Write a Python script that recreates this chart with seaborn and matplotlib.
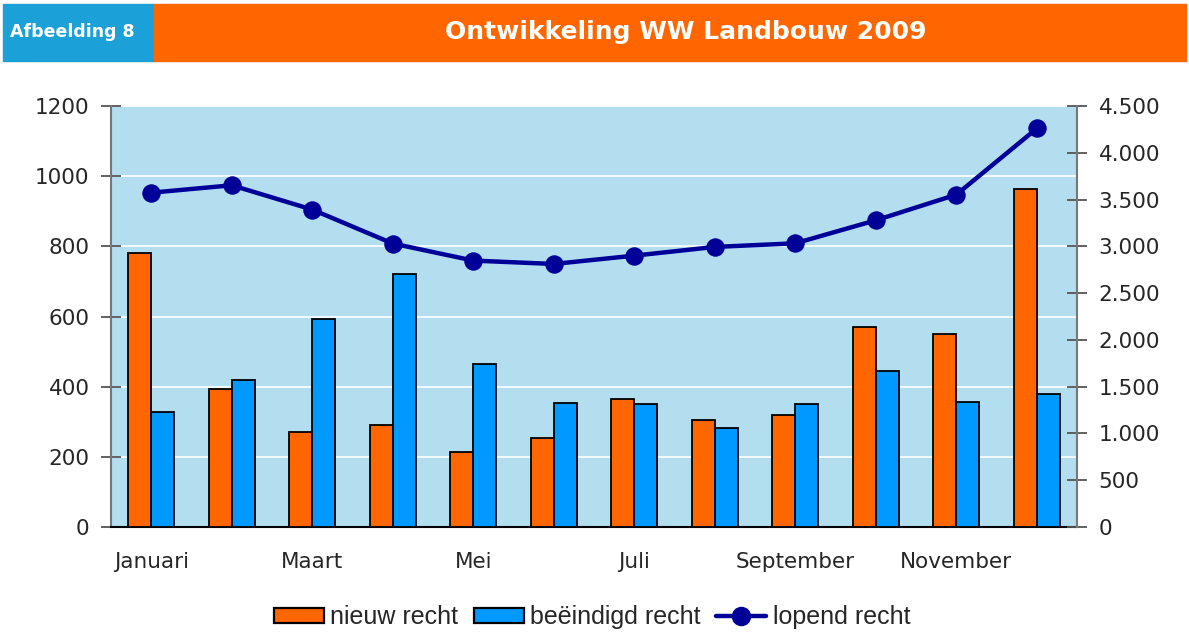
import pandas as pd
import numpy as np
import seaborn as sns
import matplotlib.pyplot as plt
from matplotlib.patches import Patch, Rectangle
from matplotlib.lines import Line2D

# --- data ---
maanden = ['Januari', 'Februari', 'Maart', 'April', 'Mei', 'Juni',
           'Juli', 'Augustus', 'September', 'Oktober', 'November', 'December']
nieuw_recht = [780, 394, 270, 291, 213, 253, 365, 305, 320, 570, 551, 964]
beeindigd_recht = [327, 418, 593, 722, 464, 354, 351, 281, 351, 444, 357, 379]
lopend_recht = [3574, 3653, 3393, 3030, 2848, 2812, 2901, 2994, 3033, 3279, 3553, 4261]

reeksen = ['nieuw recht', 'beëindigd recht']
kleuren = {'nieuw recht': '#FF6600', 'beëindigd recht': '#0099FF'}

df = pd.DataFrame({'maand': maanden,
                   'nieuw recht': nieuw_recht,
                   'beëindigd recht': beeindigd_recht})
df_long = df.melt(id_vars='maand', var_name='reeks', value_name='aantal')

sns.set_style("white")
plt.rcParams['font.family'] = ['DejaVu Sans']

fig = plt.figure(figsize=(11.89, 6.32), dpi=100)
ax = fig.add_axes([0.0934, 0.1661, 0.8125, 0.6661])
ax.set_facecolor('#B2DEF0')

# staven
sns.barplot(data=df_long, x='maand', y='aantal', hue='reeks', hue_order=reeksen,
            order=maanden, palette=kleuren, width=0.57, edgecolor='black',
            linewidth=1.3, saturation=1, legend=False, ax=ax, zorder=3)

ax.set_ylim(0, 1200)
ax.set_yticks(range(0, 1201, 200))
ax.yaxis.grid(True, color='white', linewidth=1.2, zorder=0)
ax.set_axisbelow(True)
ax.set_xlim(-0.5, 11.5)
ax.set_xlabel('')
ax.set_ylabel('')

# x-as: streepjes op de grenzen, labels om de maand
ax.set_xticks(np.arange(-0.5, 12, 1))
ax.set_xticklabels([])
ax.set_xticks(np.arange(0, 12, 2), minor=True)
ax.set_xticklabels(maanden[::2], minor=True)
ax.tick_params(axis='x', which='major', direction='inout', length=15, width=1.3, color='#333333')
ax.tick_params(axis='x', which='minor', length=0, pad=18, labelsize=15.5)
ax.tick_params(axis='y', direction='inout', length=15, width=1.3, color='#555555',
               labelsize=15.5, pad=8)

ax.spines['top'].set_visible(False)
ax.spines['left'].set_color('#777777')
ax.spines['left'].set_linewidth(1.5)
ax.spines['bottom'].set_color('black')
ax.spines['bottom'].set_linewidth(1.5)
ax.spines['right'].set_visible(False)

# lijn op rechter as
ax2 = ax.twinx()
sns.lineplot(x=np.arange(len(maanden)), y=lopend_recht, ax=ax2, color='#000099',
             linewidth=3.2, marker='o', markersize=12.5, markeredgecolor='#000099',
             zorder=5)
ax2.set_ylim(0, 4500)
ax2.set_yticks(range(0, 4501, 500))
ax2.set_yticklabels([f'{v:,}'.replace(',', '.') for v in range(0, 4501, 500)])
ax2.tick_params(axis='y', direction='inout', length=15, width=1.3, color='#555555',
                labelsize=15.5, pad=8)
for s in ['top', 'left', 'bottom']:
    ax2.spines[s].set_visible(False)
ax2.spines['right'].set_color('#777777')
ax2.spines['right'].set_linewidth(1.5)
ax2.set_ylabel('')

# kopbalk
fig.patches.append(Rectangle((3 / 1189, 1 - 61 / 632), 151 / 1189, 57 / 632,
                             transform=fig.transFigure, color='#1BA0D7', zorder=0))
fig.patches.append(Rectangle((154 / 1189, 1 - 61 / 632), 1032 / 1189, 57 / 632,
                             transform=fig.transFigure, color='#FF6600', zorder=0))
fig.text(10 / 1189, 1 - 32 / 632, 'Afbeelding 8', color='white', fontsize=12.5,
         fontweight='bold', ha='left', va='center')
fig.text(686 / 1189, 1 - 32 / 632, 'Ontwikkeling WW Landbouw 2009', color='white',
         fontsize=18, fontweight='bold', ha='center', va='center')

# legenda
handles = [Patch(facecolor=kleuren[r], edgecolor='black', linewidth=1.6) for r in reeksen]
handles.append(Line2D([], [], color='#000099', linewidth=3.2, marker='o', markersize=13))
fig.legend(handles, reeksen + ['lopend recht'], loc='center',
           bbox_to_anchor=(592 / 1189, 1 - 617 / 632), ncol=3, frameon=False,
           prop={'family': 'Liberation Sans', 'size': 18}, handlelength=2.0,
           handleheight=0.55, handletextpad=0.28, columnspacing=0.6)

plt.savefig('out.png', dpi=100)
